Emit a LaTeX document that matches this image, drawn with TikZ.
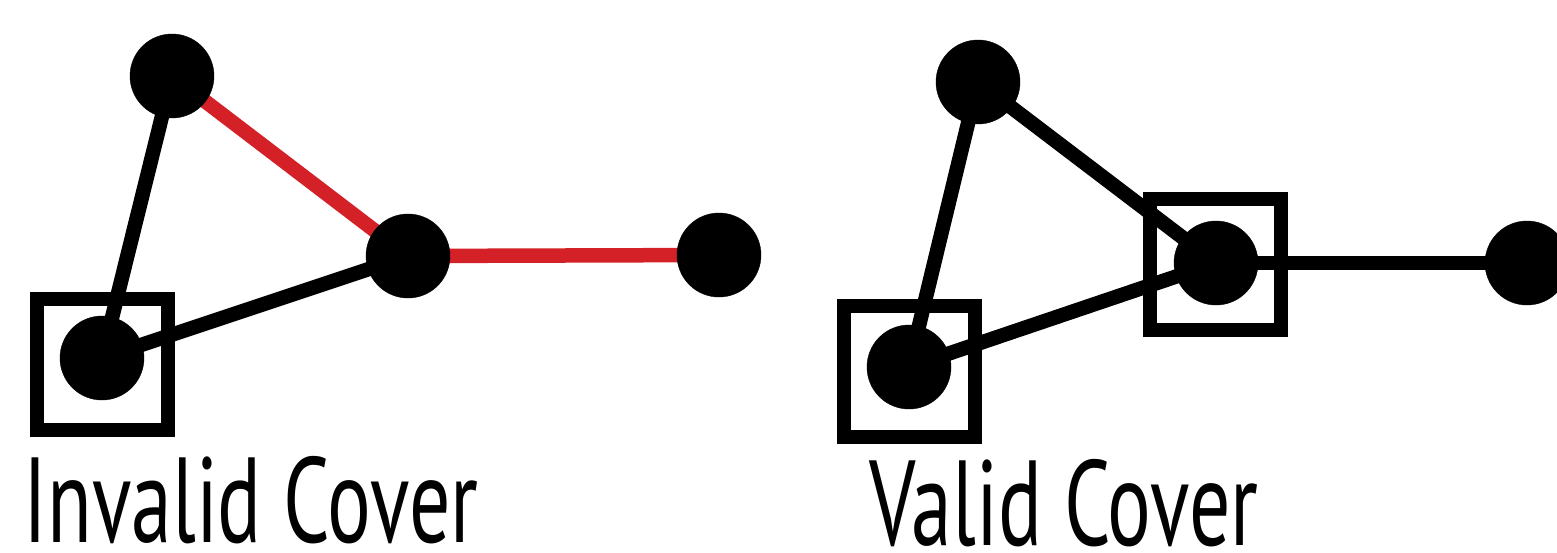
\documentclass[tikz,border=0pt]{standalone}
\usepackage{fontspec}
\setmainfont{PT Sans}
\usetikzlibrary{backgrounds}
\definecolor{edgered}{RGB}{212,33,39}
\newcommand{\narrowtext}[1]{\scalebox{0.676}[1]{#1}}
\tikzset{
  vertex/.style={circle, fill=black, draw=black, minimum size=84pt, inner sep=0pt},
  coverbox/.style={rectangle, draw=black, line width=14pt, minimum size=131pt, inner sep=0pt},
  edge/.style={line width=14.5pt, black},
  badedge/.style={line width=14.5pt, edgered},
  caption/.style={anchor=base, inner sep=0pt, font=\fontsize{121}{130}\selectfont}
}
\begin{document}
\begin{tikzpicture}[x=1pt, y=-1pt]
  \useasboundingbox (0,0) rectangle (1557,552);

  % invalid cover
  \node[vertex] (a1) at (172,76) {};
  \node[vertex] (b1) at (408,256) {};
  \node[vertex] (c1) at (719,255) {};
  \node[vertex] (d1) at (102,358) {};
  \node[coverbox] (s1) at (102.5,364.5) {};

  % valid cover
  \node[vertex] (a2) at (978,82) {};
  \node[vertex] (b2) at (1216,263) {};
  \node[vertex] (c2) at (1527,263) {};
  \node[vertex] (d2) at (909,367) {};
  \node[coverbox] (s2) at (909.5,371.5) {};
  \node[coverbox] (s3) at (1215,264.5) {};

  \begin{scope}[on background layer]
    \draw[edge] (a1.center) -- (d1.center);
    \draw[edge] (d1.center) -- (b1.center);
    \draw[badedge] (a1.center) -- (b1.center);
    \draw[badedge] (b1.center) -- (c1.center);
    \draw[edge] (a2.center) -- (d2.center);
    \draw[edge] (d2.center) -- (b2.center);
    \draw[edge] (a2.center) -- (b2.center);
    \draw[edge] (b2.center) -- (c2.center);
  \end{scope}

  \node[caption] (t1) at (251,542) {\narrowtext{Invalid Cover}};
  \node[caption] (t2) at (1064,545) {\narrowtext{Valid Cover}};
\end{tikzpicture}
\end{document}
